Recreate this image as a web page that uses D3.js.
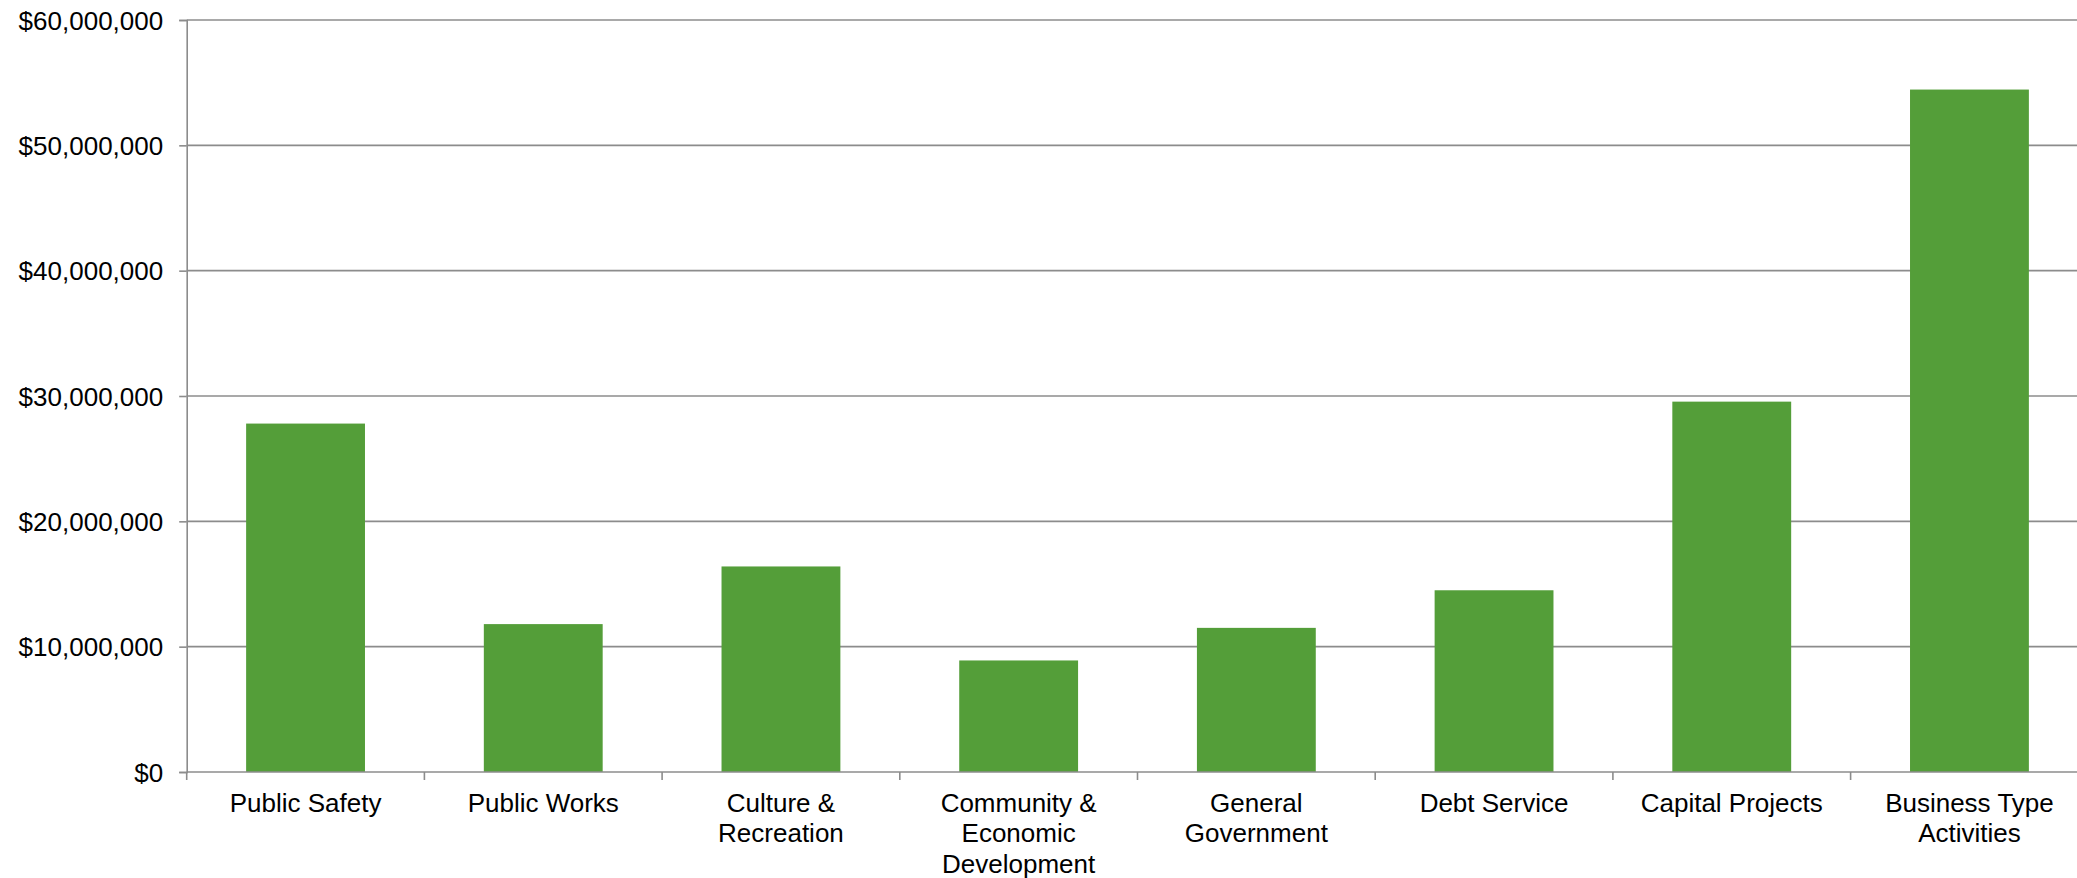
<!DOCTYPE html>
<html>
<head>
<meta charset="utf-8">
<script src="https://cdn.jsdelivr.net/npm/d3@7/dist/d3.min.js"></script>
<style>
  html, body { margin: 0; padding: 0; background: #fff; overflow: hidden; }
  svg { display: block; font-family: "Liberation Sans", Arial, sans-serif; }
</style>
</head>
<body>
<svg id="chart" width="2077" height="878"></svg>
<script>
// Spending by function
const categories = [
  "Public Safety",
  "Public Works",
  "Culture & Recreation",
  "Community & Economic Development",
  "General Government",
  "Debt Service",
  "Capital Projects",
  "Business Type Activities"
];
const categoryLines = [
  ["Public Safety"],
  ["Public Works"],
  ["Culture &", "Recreation"],
  ["Community &", "Economic", "Development"],
  ["General", "Government"],
  ["Debt Service"],
  ["Capital Projects"],
  ["Business Type", "Activities"]
];
const amounts = [27800000, 11800000, 16400000, 8900000, 11500000, 14500000, 29550000, 54450000];
const yTicks = [0, 10000000, 20000000, 30000000, 40000000, 50000000, 60000000];

const svg = d3.select("#chart");
const plot = { left: 186.7, right: 2088.3, top: 20, bottom: 772 };
const gridColor = "#8c8c8c";
const barColor = "#549e39";

const x = d3.scaleBand()
  .domain(categories)
  .range([plot.left, plot.right])
  .paddingInner(0.5)
  .paddingOuter(0.25);

const y = d3.scaleLinear()
  .domain([0, 60000000])
  .range([plot.bottom, plot.top]);

const fmt = v => "$" + d3.format(",")(v);

// horizontal gridlines
svg.append("g")
  .selectAll("line")
  .data(yTicks.filter(v => v > 0))
  .join("line")
  .attr("x1", plot.left).attr("x2", plot.right)
  .attr("y1", d => y(d)).attr("y2", d => y(d))
  .attr("stroke", gridColor)
  .attr("stroke-width", 1.6);

// bars
svg.append("g")
  .selectAll("rect")
  .data(categories)
  .join("rect")
  .attr("x", d => x(d))
  .attr("width", x.bandwidth())
  .attr("y", (d, i) => y(amounts[i]))
  .attr("height", (d, i) => y(0) - y(amounts[i]))
  .attr("fill", barColor);

// value axis
const yAxis = svg.append("g")
  .attr("transform", `translate(${plot.left},0)`)
  .call(d3.axisLeft(y).tickValues(yTicks).tickFormat(fmt).tickSize(7.5).tickPadding(16));
yAxis.select(".domain").attr("stroke", gridColor).attr("stroke-width", 1.6);
yAxis.selectAll(".tick line").attr("stroke", gridColor).attr("stroke-width", 1.6);
yAxis.selectAll(".tick text")
  .attr("font-size", 26)
  .attr("font-family", "Liberation Sans, Arial, sans-serif")
  .attr("fill", "#000")
  .attr("dy", null)
  .attr("dominant-baseline", "central");

// category axis line
svg.append("line")
  .attr("x1", plot.left).attr("x2", plot.right)
  .attr("y1", plot.bottom).attr("y2", plot.bottom)
  .attr("stroke", gridColor)
  .attr("stroke-width", 1.6);

// category tick marks between bands
const step = x.step();
const boundaries = d3.range(categories.length + 1).map(i => plot.left + i * step);
svg.append("g")
  .selectAll("line")
  .data(boundaries)
  .join("line")
  .attr("x1", d => d).attr("x2", d => d)
  .attr("y1", plot.bottom).attr("y2", plot.bottom + 8)
  .attr("stroke", gridColor)
  .attr("stroke-width", 1.6);

// category labels
const lab = svg.append("g")
  .selectAll("text")
  .data(categories)
  .join("text")
  .attr("x", d => x(d) + x.bandwidth() / 2)
  .attr("y", 811.7)
  .attr("text-anchor", "middle")
  .attr("font-size", 26)
  .attr("fill", "#000");
lab.each(function(d, i) {
  d3.select(this).selectAll("tspan")
    .data(categoryLines[i])
    .join("tspan")
    .attr("x", x(d) + x.bandwidth() / 2)
    .attr("dy", (t, j) => j === 0 ? 0 : 30.5)
    .text(t => t);
});
</script>
</body>
</html>
